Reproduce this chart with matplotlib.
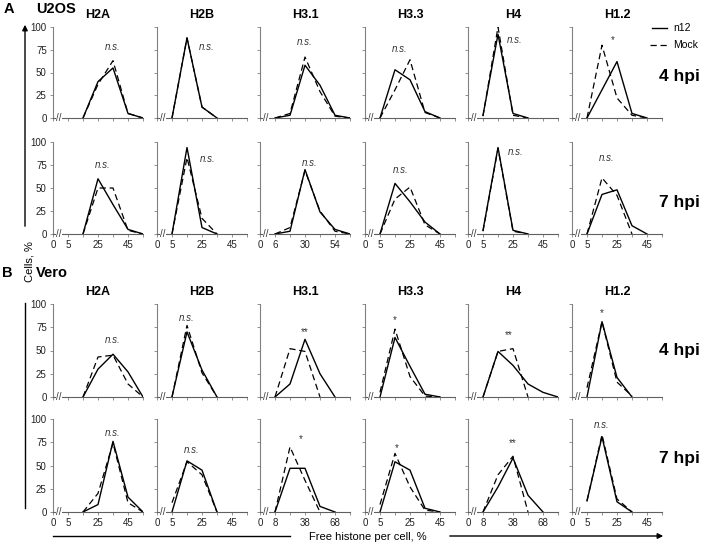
import numpy as np
import matplotlib.pyplot as plt
from matplotlib.lines import Line2D
from matplotlib.patches import FancyArrowPatch

plt.rcParams["font.family"] = ["Liberation Sans", "DejaVu Sans"]

nan = np.nan
histones = ["H2A", "H2B", "H3.1", "H3.3", "H4", "H1.2"]
hpi_labels = ["4 hpi", "7 hpi", "4 hpi", "7 hpi"]
yticks = [0, 25, 50, 75, 100]

# % cells per bin (bins are categorical positions 0..6)
u2os_4h_n12 = [
    [nan, nan, 0, 40, 55, 5, 0],
    [nan, 0, 88, 12, 0, nan, nan],
    [nan, 0, 3, 58, 36, 3, 0],
    [nan, 0, 53, 42, 7, 0, nan],
    [nan, 3, 92, 5, 0, nan, nan],
    [nan, 0, 31, 62, 5, 0, nan],
]
u2os_4h_mock = [
    [nan, nan, 0, 37, 63, 5, 0],
    [nan, 0, 88, 12, 0, nan, nan],
    [nan, 0, 5, 67, 29, 2, 0],
    [nan, 0, 31, 64, 6, 0, nan],
    [nan, 2, 100, 3, 0, nan, nan],
    [nan, 0, 80, 22, 3, 0, nan],
]
u2os_7h_n12 = [
    [nan, nan, 0, 60, 32, 5, 0],
    [nan, 0, 94, 7, 0, nan, nan],
    [nan, 0, 3, 70, 24, 5, 0],
    [nan, 0, 55, 35, 13, 0, nan],
    [nan, 4, 94, 4, 0, nan, nan],
    [nan, 0, 43, 48, 9, 0, nan],
]
u2os_7h_mock = [
    [nan, nan, 0, 50, 50, 4, 0],
    [nan, 0, 83, 17, 0, nan, nan],
    [nan, 0, 7, 69, 25, 3, 0],
    [nan, 0, 38, 51, 10, 0, nan],
    [nan, 3, 93, 3, 0, nan, nan],
    [nan, 0, 61, 42, 0, nan, nan],
]
vero_4h_n12 = [
    [nan, nan, 0, 30, 46, 27, 0],
    [nan, 0, 70, 29, 0, nan, nan],
    [nan, 0, 14, 62, 25, 0, nan],
    [nan, 0, 64, 33, 3, 0, nan],
    [nan, 0, 49, 34, 14, 5, 0],
    [nan, 0, 81, 21, 0, nan, nan],
]
vero_4h_mock = [
    [nan, nan, 0, 43, 45, 14, 0],
    [nan, 0, 77, 26, 0, nan, nan],
    [nan, 0, 52, 49, 0, nan, nan],
    [nan, 5, 73, 22, 1, 0, nan],
    [nan, 0, 49, 52, 0, nan, nan],
    [nan, 10, 81, 16, 1, nan, nan],
]
vero_7h_n12 = [
    [nan, nan, 0, 8, 76, 16, 0],
    [nan, 0, 55, 45, 0, nan, nan],
    [nan, 0, 47, 47, 6, 0, nan],
    [nan, 0, 54, 45, 4, 0, nan],
    [nan, 0, 27, 58, 18, 0, nan],
    [nan, 12, 81, 11, 0, nan, nan],
]
vero_7h_mock = [
    [nan, nan, 0, 20, 74, 10, 0],
    [nan, 10, 54, 40, 0, nan, nan],
    [nan, 0, 70, 34, 0, nan, nan],
    [nan, 8, 63, 27, 2, 0, nan],
    [nan, 0, 40, 60, 0, nan, nan],
    [nan, 12, 83, 14, 0, nan, nan],
]

# significance marks: (text, x position, y)
sig_u2os_4h = [("n.s.", 4.0, 78), ("n.s.", 3.3, 78), ("n.s.", 3.0, 84),
               ("n.s.", 2.3, 76), ("n.s.", 3.1, 86), ("*", 2.7, 86)]
sig_u2os_7h = [("n.s.", 3.3, 75), ("n.s.", 3.4, 81), ("n.s.", 3.3, 77),
               ("n.s.", 2.4, 70), ("n.s.", 3.2, 89), ("n.s.", 2.3, 83)]
sig_vero_4h = [("n.s.", 4.0, 61), ("n.s.", 2.0, 85), ("**", 3.0, 70),
               ("*", 2.0, 83), ("**", 2.7, 67), ("*", 2.0, 90)]
sig_vero_7h = [("n.s.", 4.0, 85), ("n.s.", 2.3, 67), ("*", 2.7, 78),
               ("*", 2.1, 69), ("**", 3.0, 74), ("n.s.", 2.0, 94)]

# x tick labels of the bottom rows (positions 0, 1, 3, 5)
xlab_u2os = [["0", "5", "25", "45"], ["0", "5", "25", "45"], ["0", "6", "30", "54"],
             ["0", "5", "25", "45"], ["0", "5", "25", "45"], ["0", "5", "25", "45"]]
xlab_vero = [["0", "5", "25", "45"], ["0", "5", "25", "45"], ["0", "8", "38", "68"],
             ["0", "5", "25", "45"], ["0", "8", "38", "68"], ["0", "5", "25", "45"]]

rows = [
    (u2os_4h_n12, u2os_4h_mock, sig_u2os_4h, None),
    (u2os_7h_n12, u2os_7h_mock, sig_u2os_7h, xlab_u2os),
    (vero_4h_n12, vero_4h_mock, sig_vero_4h, None),
    (vero_7h_n12, vero_7h_mock, sig_vero_7h, xlab_vero),
]

W, H = 710, 546
fig = plt.figure(figsize=(W / 100, H / 100), dpi=100)


def fx(x):
    return x / W


def fy(y):
    return 1 - y / H


row_px = [(27, 118), (142, 234), (304, 397), (419, 512)]
hpi_y = [76, 202, 350, 458]
col_left = [53, 157, 260, 365, 468, 572]
pw = 90
spine_col = "#808080"

for r, (n12, mock, sig, xlabs) in enumerate(rows):
    top, bot = row_px[r]
    for c in range(6):
        ax = fig.add_axes([fx(col_left[c]), fy(bot), pw / W, (bot - top) / H])
        x = np.arange(7)
        ax.plot(x, n12[c], color="black", lw=1.0)
        ax.plot(x, mock[c], color="black", lw=0.9, dashes=(5, 3))
        ax.set_xlim(0, 6)
        ax.set_ylim(0, 100)
        for s in ("top", "right"):
            ax.spines[s].set_visible(False)
        ax.spines["left"].set_color(spine_col)
        ax.spines["bottom"].set_color("#606060")
        ax.spines["left"].set_linewidth(0.8)
        ax.spines["bottom"].set_linewidth(0.8)
        ax.set_xticks(x)
        ax.set_yticks(yticks)
        ax.tick_params(axis="both", length=2.5, width=0.6, color=spine_col,
                       labelsize=7, pad=2, labelcolor="#222222")
        if xlabs is None:
            ax.set_xticklabels([])
        else:
            lab = [""] * 7
            for pos, t in zip([0, 1, 3, 5], xlabs[c]):
                lab[pos] = t
            ax.set_xticklabels(lab)
        if c != 0:
            ax.set_yticklabels([])
        # axis break mark
        ax.text(0.4, 0, "//", ha="center", va="center", fontsize=7,
                color="#333333", clip_on=False,
                bbox=dict(facecolor="white", edgecolor="none", pad=0.3))
        t, sx, sy = sig[c]
        ax.text(sx, sy, t, ha="center", va="center", fontsize=7,
                style="italic" if t == "n.s." else "normal", color="#333333")
        if r in (0, 2):
            fig.text(fx(col_left[c] + pw / 2), fy(top - 12), histones[c],
                     ha="center", va="center", fontsize=9, fontweight="bold")
    fig.text(fx(679), fy(hpi_y[r]), hpi_labels[r], ha="center", va="center",
             fontsize=12.5, fontweight="bold")

# panel labels
fig.text(fx(4), fy(9), "A", ha="left", va="center", fontsize=10.5, fontweight="bold")
fig.text(fx(36), fy(9), "U2OS", ha="left", va="center", fontsize=10.5, fontweight="bold")
fig.text(fx(2), fy(273), "B", ha="left", va="center", fontsize=10.5, fontweight="bold")
fig.text(fx(36), fy(273), "Vero", ha="left", va="center", fontsize=10.5, fontweight="bold")

# legend
fig.add_artist(Line2D([fx(652), fx(667)], [fy(28), fy(28)], color="black", lw=1.0))
fig.add_artist(Line2D([fx(650), fx(669)], [fy(45), fy(45)], color="black", lw=0.9,
                      dashes=(5, 3)))
fig.text(fx(673), fy(28), "n12", ha="left", va="center", fontsize=7.5)
fig.text(fx(673), fy(45), "Mock", ha="left", va="center", fontsize=7.5)

# y axis label with arrow
fig.add_artist(FancyArrowPatch((fx(25), fy(229)), (fx(25), fy(22)),
                               transform=fig.transFigure, arrowstyle="-|>",
                               mutation_scale=8, lw=1.0, color="black"))
fig.add_artist(Line2D([fx(25), fx(25)], [fy(303), fy(508)], color="black", lw=1.0))
fig.text(fx(30), fy(262), "Cells, %", rotation=90, ha="center", va="center", fontsize=8)

# x axis label with arrow
fig.add_artist(Line2D([fx(53), fx(290)], [fy(536), fy(536)], color="black", lw=1.0))
fig.add_artist(FancyArrowPatch((fx(447), fy(536)), (fx(666), fy(536)),
                               transform=fig.transFigure, arrowstyle="-|>",
                               mutation_scale=8, lw=1.0, color="black"))
fig.text(fx(368), fy(537), "Free histone per cell, %", ha="center", va="center", fontsize=8)

fig.savefig("out.png", dpi=100)
